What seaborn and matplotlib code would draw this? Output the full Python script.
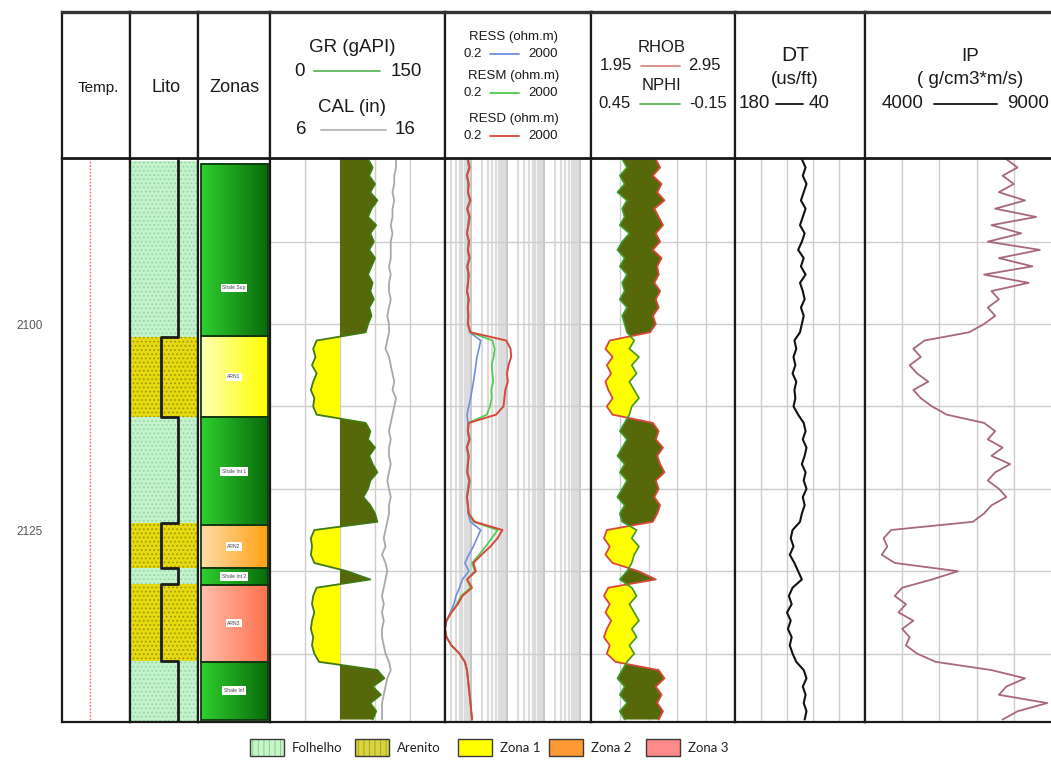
import numpy as np
import pandas as pd
import matplotlib
matplotlib.use("Agg")
import matplotlib.pyplot as plt
import matplotlib.ticker as mticker
import seaborn as sns
from matplotlib.colors import LinearSegmentedColormap
from matplotlib.patches import Rectangle

# ---------------------------------------------------------------- data
DEPTH = list(range(2080, 2149))   # 1 m samples

GR = [84, 88, 85, 90, 86, 92, 87, 84, 91, 86, 89, 85, 90, 87, 84, 88, 86, 89, 85, 87, 84, 82,
      40, 37, 39, 36, 40, 37, 35, 38, 37, 40,
      82, 86, 84, 90, 85, 88, 92, 86, 84, 80, 86, 90, 92,
      38, 35, 36, 35, 38,
      66, 86,
      40, 37, 36, 38, 36, 35, 37, 36, 38, 42,
      92, 98, 88, 95, 86, 91, 88]

CAL = [13.2, 13.2, 13.1, 13.1, 13.0, 13.1, 13.0, 13.0, 12.9, 13.0, 12.9, 12.9, 12.9, 12.8, 12.9, 12.8,
       12.8, 12.9, 12.8, 12.7, 12.8, 12.8,
       12.7, 12.6, 12.8, 12.9, 13.0, 13.1, 13.0, 13.2, 13.1, 13.0,
       12.9, 12.8, 12.9, 12.8, 12.8, 12.9, 12.8, 12.7, 12.8, 12.9, 12.8, 12.8, 12.7,
       12.6, 12.5, 12.6, 12.4, 12.6,
       12.7, 12.6,
       12.5, 12.4, 12.5, 12.4, 12.5, 12.4, 12.4, 12.5, 12.6, 12.8,
       12.9, 12.7, 12.6, 12.5, 12.4, 12.4, 12.4]

RESD = [0.85, 0.95, 0.8, 0.9, 0.85, 1.0, 0.82, 0.95, 0.88, 0.8, 0.92, 0.85, 0.95, 0.82, 0.9, 0.86,
        0.8, 0.9, 0.85, 0.88, 0.85, 1.0,
        9.5, 12.5, 13, 11, 10, 10.5, 9, 8.5, 8, 5,
        0.9, 0.85, 0.95, 0.8, 0.9, 0.85, 0.82, 0.95, 0.88, 0.8, 0.85, 0.9, 1.3,
        7.5, 5.5, 3.5, 2.0, 1.2,
        1.4, 0.8,
        1.1, 0.6, 0.45, 0.3, 0.22, 0.2, 0.22, 0.3, 0.5, 0.7,
        0.8, 0.85, 0.9, 0.95, 1.0, 1.05, 1.1]

RESM = [0.85, 0.92, 0.8, 0.88, 0.86, 0.97, 0.82, 0.93, 0.87, 0.81, 0.9, 0.85, 0.93, 0.82, 0.88, 0.85,
        0.81, 0.88, 0.84, 0.87, 0.85, 0.98,
        4.0, 4.6, 4.3, 3.8, 4.0, 4.2, 3.7, 3.8, 3.4, 2.8,
        0.88, 0.85, 0.93, 0.8, 0.88, 0.85, 0.82, 0.92, 0.86, 0.8, 0.85, 0.88, 1.2,
        5.5, 3.8, 2.6, 1.7, 1.1,
        1.3, 0.8,
        1.0, 0.55, 0.42, 0.3, 0.22, 0.2, 0.22, 0.3, 0.5, 0.7,
        0.8, 0.84, 0.9, 0.95, 1.0, 1.04, 1.1]

RESS = [0.82, 0.9, 0.78, 0.86, 0.84, 0.95, 0.8, 0.9, 0.85, 0.8, 0.88, 0.83, 0.9, 0.8, 0.86, 0.84,
        0.8, 0.86, 0.83, 0.85, 0.83, 0.95,
        1.9, 1.7, 1.5, 1.4, 1.3, 1.2, 1.1, 1.0, 0.9, 0.8,
        0.85, 0.83, 0.9, 0.78, 0.86, 0.83, 0.8, 0.9, 0.84, 0.78, 0.83, 0.86, 1.0,
        1.9, 1.5, 1.2, 0.9, 0.7,
        0.9, 0.6,
        0.5, 0.4, 0.35, 0.28, 0.22, 0.2, 0.22, 0.3, 0.5, 0.7,
        0.8, 0.84, 0.88, 0.94, 1.0, 1.04, 1.1]

RHOB = [2.40, 2.43, 2.38, 2.44, 2.41, 2.46, 2.39, 2.42, 2.45, 2.40, 2.43, 2.38, 2.44, 2.41, 2.42, 2.39,
        2.43, 2.40, 2.42, 2.38, 2.40, 2.36,
        2.08, 2.05, 2.10, 2.06, 2.09, 2.05, 2.07, 2.10, 2.06, 2.10,
        2.38, 2.42, 2.40, 2.45, 2.41, 2.43, 2.46, 2.40, 2.42, 2.39, 2.43, 2.41, 2.38,
        2.06, 2.04, 2.08, 2.05, 2.10,
        2.28, 2.40,
        2.07, 2.04, 2.08, 2.05, 2.09, 2.06, 2.04, 2.08, 2.06, 2.12,
        2.42, 2.46, 2.40, 2.44, 2.41, 2.45, 2.42]

NPHI = [0.32, 0.30, 0.33, 0.31, 0.34, 0.30, 0.32, 0.31, 0.33, 0.29, 0.32, 0.34, 0.31, 0.33, 0.30, 0.32,
        0.31, 0.33, 0.30, 0.32, 0.31, 0.30,
        0.27, 0.29, 0.25, 0.28, 0.26, 0.29, 0.27, 0.25, 0.28, 0.29,
        0.31, 0.33, 0.30, 0.32, 0.34, 0.31, 0.33, 0.30, 0.32, 0.34, 0.31, 0.33, 0.32,
        0.26, 0.28, 0.25, 0.27, 0.28,
        0.30, 0.33,
        0.28, 0.26, 0.29, 0.27, 0.25, 0.28, 0.26, 0.29, 0.27, 0.30,
        0.32, 0.34, 0.31, 0.33, 0.30, 0.33, 0.31]

DT = [108, 104, 107, 103, 106, 109, 104, 107, 110, 105, 108, 112, 106, 109, 104, 110, 107, 105, 109, 106, 108, 110,
      116, 114, 117, 115, 118, 114, 116, 115, 117, 112,
      106, 104, 107, 103, 105, 108, 104, 106, 103, 107, 105, 108, 110,
      118, 120, 117, 121, 116,
      112, 108,
      118, 122, 119, 124, 120, 123, 119, 121, 118, 114,
      106, 103, 107, 104, 106, 103, 105]

IP = [7800, 8100, 7700, 8000, 7600, 8300, 7500, 8600, 7400, 8200, 7300, 8700, 7600, 8500, 7200, 8400,
      7400, 7600, 7300, 7500, 7200, 6800,
      5600, 5300, 5500, 5200, 5400, 5700, 5300, 5500, 5800, 6200,
      7200, 7500, 7300, 7700, 7400, 7900, 7500, 7300, 7600, 7800, 7400, 7200, 6900,
      4700, 4500, 4600, 4450, 4800,
      6500, 5800,
      5000, 4800, 5100, 4900, 5300, 5000, 5200, 5100, 5400, 5900,
      7400, 8300, 7800, 7600, 8900, 8100, 7700]

TEMP_DEPTH = [2079.85, 2148.3]
TEMP = [41, 41]

ZONE_NAMES = ['Shale Sup', 'ARN1', 'Shale Int 1', 'ARN2', 'Shale Int 2', 'ARN3', 'Shale Inf']
ZONE_TOPS = [2080.6, 2101.5, 2111.3, 2124.4, 2129.6, 2131.7, 2141.0]
ZONE_BASES = [2101.5, 2111.3, 2124.4, 2129.6, 2131.7, 2141.0, 2148.1]
ZONE_LABEL_DEPTH = [2095.6, 2106.4, 2117.9, 2127.0, 2130.65, 2136.3, 2144.5]

LITO_NAMES = ['Folhelho', 'Arenito', 'Folhelho', 'Arenito', 'Folhelho', 'Arenito', 'Folhelho']
LITO_TOPS = [2080.2, 2101.6, 2111.3, 2124.2, 2129.6, 2131.6, 2140.9]
LITO_BASES = [2101.6, 2111.3, 2124.2, 2129.6, 2131.6, 2140.9, 2148.3]

DEPTH_LABELS = [2100, 2125]
GRID_DEPTHS = [2090, 2100, 2110, 2120, 2130, 2140]
GR_CUTOFF = 60
LEGEND_LABELS = ['Folhelho', 'Arenito', 'Zona 1', 'Zona 2', 'Zona 3']

# ---------------------------------------------------------------- setup
sns.set_theme(style="white")
plt.rcParams['font.family'] = ['Liberation Sans', 'DejaVu Sans']
plt.rcParams['hatch.linewidth'] = 0.8

logs = pd.DataFrame(dict(DEPTH=DEPTH, GR=GR, CAL=CAL, RESS=RESS, RESM=RESM, RESD=RESD,
                         RHOB=RHOB, NPHI=NPHI, DT=DT, IP=IP))

W, H = 1051, 767
fig = plt.figure(figsize=(W / 100, H / 100), dpi=100)
fig.patch.set_facecolor('white')

HEAD_TOP, HEAD_BOT, DATA_BOT = 12, 158, 722
D_TOP, D_BOT = 2079.85, 2148.3
TR = {'Temp': (62, 130), 'Lito': (130, 198), 'Zonas': (198, 270), 'GR': (270, 445),
      'RES': (445, 591), 'RHOB': (591, 735), 'DT': (735, 865), 'IP': (865, 1051)}

OLIVE = '#56680a'
YEL = '#ffff00'
EDGE = '#1a1a1a'
GRIDC = '#cdcdcd'


def ax_px(x0, y0, x1, y1):
    return fig.add_axes([x0 / W, 1 - y1 / H, (x1 - x0) / W, (y1 - y0) / H])


def curve(ax, col, color, lw=1.2, **kw):
    sns.lineplot(data=logs, x=col, y='DEPTH', orient='y', estimator=None, errorbar=None,
                 ax=ax, color=color, lw=lw, **kw)
    ax.set_xlabel('')
    ax.set_ylabel('')


def style_track(ax, xgrid=None, ygrid=True, right=True):
    ax.set_ylim(D_BOT, D_TOP)
    ax.set_yticks(GRID_DEPTHS if ygrid else [])
    if xgrid is not None:
        ax.set_xticks(xgrid)
    else:
        ax.set_xticks([])
    ax.tick_params(length=0, labelleft=False, labelbottom=False, which='both')
    ax.grid(True, color=GRIDC, lw=1.0)
    ax.set_axisbelow(True)
    for s in ax.spines.values():
        s.set_linewidth(1.6)
        s.set_color(EDGE)
    if not right:
        ax.spines['right'].set_visible(False)


def hide_twin(ax2):
    for s in ax2.spines.values():
        s.set_visible(False)
    ax2.set_xticks([])
    ax2.tick_params(length=0, labeltop=False, labelbottom=False)
    ax2.set_xlabel('')
    ax2.set_ylabel('')


# ---------------------------------------------------------------- Temp
ax = ax_px(TR['Temp'][0], HEAD_BOT, TR['Temp'][1], DATA_BOT)
sns.lineplot(x=TEMP, y=TEMP_DEPTH, orient='y', estimator=None, errorbar=None, ax=ax,
             color='#e06a6a', lw=1.0, linestyle=(0, (1.2, 1.2)))
ax.set_xlim(0, 100)
style_track(ax, ygrid=False)
ax.grid(False)
ax.set_yticks(DEPTH_LABELS)
ax.set_yticklabels([str(d) for d in DEPTH_LABELS])
ax.tick_params(labelleft=True, pad=14, labelsize=8.5, labelcolor='#555555')
ax.set_xlabel(''); ax.set_ylabel('')

# ---------------------------------------------------------------- Lito
ax = ax_px(TR['Lito'][0], HEAD_BOT, TR['Lito'][1], DATA_BOT)
LITO_STYLE = {'Folhelho': ('#c4f2cc', '#93d9a3', 0.71),
              'Arenito': ('#e6da10', '#a89a00', 0.46)}
xs, ys = [], []
for name, t, b in zip(LITO_NAMES, LITO_TOPS, LITO_BASES):
    fc, hc, lx = LITO_STYLE[name]
    ax.fill_betweenx([t, b], 0, 1, facecolor=fc, edgecolor='none', lw=0)
    ax.fill_betweenx([t, b], 0, 1, facecolor='none', edgecolor=hc, hatch='....', lw=0)
    xs += [lx, lx]
    ys += [t, b]
ax.plot(xs, [D_TOP] + ys[1:], color='#1c1c1c', lw=2.0)
ax.set_xlim(0, 1)
style_track(ax, ygrid=False)
ax.grid(False)

# ---------------------------------------------------------------- Zonas
ax = ax_px(TR['Zonas'][0], HEAD_BOT, TR['Zonas'][1], DATA_BOT)
ZCOL = {'shale': ('#2fd02f', '#0a6a0a'), 'ARN1': ('#ffffb4', '#ffff00'),
        'ARN2': ('#ffdca8', '#ffa014'), 'ARN3': ('#ffc0b0', '#ff704c')}
grad = np.linspace(0, 1, 256).reshape(1, -1)
for name, t, b, ld in zip(ZONE_NAMES, ZONE_TOPS, ZONE_BASES, ZONE_LABEL_DEPTH):
    key = name if name.startswith('ARN') else 'shale'
    cmap = LinearSegmentedColormap.from_list(key, ZCOL[key])
    ax.imshow(grad, cmap=cmap, aspect='auto', extent=(0.04, 0.97, b, t), zorder=1)
    ax.add_patch(Rectangle((0.04, t), 0.93, b - t, fill=False, edgecolor='#123812', lw=1.3, zorder=2))
    ax.text(0.5, ld, name, fontsize=3.6, ha='center', va='center', color='#444444', zorder=3,
            bbox=dict(boxstyle='square,pad=0.35', fc='white', ec='none'))
ax.set_xlim(0, 1)
style_track(ax, ygrid=False)
ax.grid(False)

# ---------------------------------------------------------------- GR / CAL
ax = ax_px(TR['GR'][0], HEAD_BOT, TR['GR'][1], DATA_BOT)
gr = np.array(GR, dtype=float)
ax.fill_betweenx(DEPTH, GR_CUTOFF, gr, where=gr >= GR_CUTOFF, interpolate=True, color=OLIVE, lw=0)
ax.fill_betweenx(DEPTH, GR_CUTOFF, gr, where=gr < GR_CUTOFF, interpolate=True, color=YEL, lw=0)
curve(ax, 'GR', '#3f7a12', lw=1.3)
ax.set_xlim(0, 150)
ax2 = ax.twiny()
curve(ax2, 'CAL', '#a8a8a8', lw=1.3)
ax2.set_xlim(6, 16)
hide_twin(ax2)
style_track(ax, xgrid=[30, 60, 90, 120])

# ---------------------------------------------------------------- Resistivity
ax = ax_px(TR['RES'][0], HEAD_BOT, TR['RES'][1], DATA_BOT)
ax.set_xscale('log')
curve(ax, 'RESS', '#6f8fdc', lw=1.2)
curve(ax, 'RESM', '#4ccc4c', lw=1.2)
curve(ax, 'RESD', '#d8483a', lw=1.4)
ax.set_xlim(0.2, 2000)
style_track(ax)
RES_MAJOR = [1, 10, 100, 1000]
RES_MINOR = [m * 10.0 ** k for k in (-1, 0, 1, 2, 3) for m in range(2, 10)
             if 0.2 < m * 10.0 ** k < 2000]
ax.xaxis.set_major_locator(mticker.FixedLocator(RES_MAJOR))
ax.xaxis.set_minor_locator(mticker.FixedLocator(RES_MINOR))
ax.tick_params(which='both', length=0, labelbottom=False)
ax.grid(True, which='minor', axis='x', color='#dcdcdc', lw=1.6)
ax.grid(True, which='major', axis='x', color='#c6c6c6', lw=1.4)
ax.grid(True, which='major', axis='y', color=GRIDC, lw=1.0)

# ---------------------------------------------------------------- RHOB / NPHI
ax = ax_px(TR['RHOB'][0], HEAD_BOT, TR['RHOB'][1], DATA_BOT)
rhob = np.array(RHOB)
nphi_on_rhob = 1.95 + (0.45 - np.array(NPHI)) / 0.6 * 1.0
ax.fill_betweenx(DEPTH, rhob, nphi_on_rhob, where=nphi_on_rhob <= rhob, interpolate=True, color=OLIVE, lw=0)
ax.fill_betweenx(DEPTH, rhob, nphi_on_rhob, where=nphi_on_rhob > rhob, interpolate=True, color=YEL, lw=0)
curve(ax, 'RHOB', '#d8483a', lw=1.3)
ax.set_xlim(1.95, 2.95)
ax2 = ax.twiny()
curve(ax2, 'NPHI', '#3d9a2a', lw=1.2)
ax2.set_xlim(0.45, -0.15)
hide_twin(ax2)
style_track(ax, xgrid=[2.15, 2.35, 2.55, 2.75])

# ---------------------------------------------------------------- DT
ax = ax_px(TR['DT'][0], HEAD_BOT, TR['DT'][1], DATA_BOT)
curve(ax, 'DT', '#111111', lw=1.5)
ax.set_xlim(180, 40)
style_track(ax, xgrid=[152, 124, 96, 68])

# ---------------------------------------------------------------- IP
ax = ax_px(TR['IP'][0], HEAD_BOT, TR['IP'][1], DATA_BOT)
curve(ax, 'IP', '#a8687a', lw=1.3)
ax.set_xlim(4000, 9000)
style_track(ax, xgrid=[5000, 6000, 7000, 8000], right=False)

# ---------------------------------------------------------------- headers
def header_ax(key, right=True):
    x0, x1 = TR[key]
    a = ax_px(x0, HEAD_TOP, x1, HEAD_BOT)
    a.set_xlim(0, 1)
    a.set_ylim(HEAD_BOT, HEAD_TOP)
    a.set_xticks([]); a.set_yticks([])
    a.set_facecolor('white')
    for s in a.spines.values():
        s.set_linewidth(1.6)
        s.set_color(EDGE)
    a.spines['top'].set_linewidth(2.4)
    a.spines['top'].set_color('#333333')
    a.spines['bottom'].set_linewidth(2.0)
    if not right:
        a.spines['right'].set_visible(False)
    return a


def htxt(a, x, y, s, size):
    a.text(x, y, s, ha='center', va='center', fontsize=size, color='#1a1a1a')


def scale_row(a, y, left, right, color, xl, xr, l0, l1, size):
    htxt(a, xl, y, left, size)
    htxt(a, xr, y, right, size)
    a.plot([l0, l1], [y, y], color=color, lw=1.3)


a = header_ax('Temp'); htxt(a, 0.53, 88, 'Temp.', 11)
a = header_ax('Lito'); htxt(a, 0.53, 88, 'Lito', 13)
a = header_ax('Zonas'); htxt(a, 0.5, 88, 'Zonas', 13)

a = header_ax('GR')
htxt(a, 0.47, 47, 'GR (gAPI)', 13.5)
scale_row(a, 71, '0', '150', '#5cb85c', 0.17, 0.78, 0.25, 0.63, 13.5)
htxt(a, 0.47, 108, 'CAL (in)', 13.5)
scale_row(a, 130, '6', '16', '#b5b5b5', 0.18, 0.77, 0.29, 0.66, 13.5)

a = header_ax('RES')
for y0, lab, col in [(37, 'RESS (ohm.m)', '#6f8fdc'), (76, 'RESM (ohm.m)', '#4ccc4c'),
                     (119, 'RESD (ohm.m)', '#d8483a')]:
    htxt(a, 0.47, y0, lab, 9.5)
    scale_row(a, y0 + 17, '0.2', '2000', col, 0.19, 0.67, 0.31, 0.51, 9.5)

a = header_ax('RHOB')
htxt(a, 0.49, 47, 'RHOB', 12)
scale_row(a, 66, '1.95', '2.95', '#d98a80', 0.17, 0.79, 0.35, 0.62, 12)
htxt(a, 0.49, 86, 'NPHI', 12)
scale_row(a, 104, '0.45', '-0.15', '#5cb85c', 0.16, 0.81, 0.34, 0.62, 12)

a = header_ax('DT')
htxt(a, 0.46, 55, 'DT', 15)
htxt(a, 0.46, 79, '(us/ft)', 13.5)
scale_row(a, 104, '180', '40', '#111111', 0.15, 0.65, 0.315, 0.52, 13.5)

a = header_ax('IP', right=False)
htxt(a, 0.565, 56, 'IP', 13.5)
htxt(a, 0.565, 80, '( g/cm3*m/s)', 13.5)
scale_row(a, 104, '4000', '9000', '#111111', 0.20, 0.875, 0.37, 0.71, 13.5)

# ---------------------------------------------------------------- legend
LEG_STYLE = [('#c8f5c8', '#8fd28f', '|||'), ('#d8d444', '#b0aa18', '|||'),
             ('#ffff00', None, None), ('#ff9933', None, None), ('#ff8a8a', None, None)]
LEG_PATCH_X = [250, 355, 458, 549, 646]
LEG_Y, LEG_PH, LEG_PW = 739, 17, 34
for lab, (fc, hc, hatch), px in zip(LEGEND_LABELS, LEG_STYLE, LEG_PATCH_X):
    fig.add_artist(Rectangle((px / W, 1 - (LEG_Y + LEG_PH) / H), LEG_PW / W, LEG_PH / H,
                             transform=fig.transFigure, facecolor=fc, edgecolor='none'))
    if hatch:
        fig.add_artist(Rectangle((px / W, 1 - (LEG_Y + LEG_PH) / H), LEG_PW / W, LEG_PH / H,
                                 transform=fig.transFigure, facecolor='none', edgecolor=hc,
                                 hatch=hatch, lw=0))
    fig.add_artist(Rectangle((px / W, 1 - (LEG_Y + LEG_PH) / H), LEG_PW / W, LEG_PH / H,
                             transform=fig.transFigure, facecolor='none', edgecolor='#3a3a3a', lw=1.0))
    fig.text((px + LEG_PW + 8) / W, 1 - (LEG_Y + LEG_PH / 2) / H, lab, ha='left', va='center',
             fontsize=9.5, family=['Lato', 'DejaVu Sans'], color='#222222')

fig.savefig('out.png', dpi=100, facecolor='white')
